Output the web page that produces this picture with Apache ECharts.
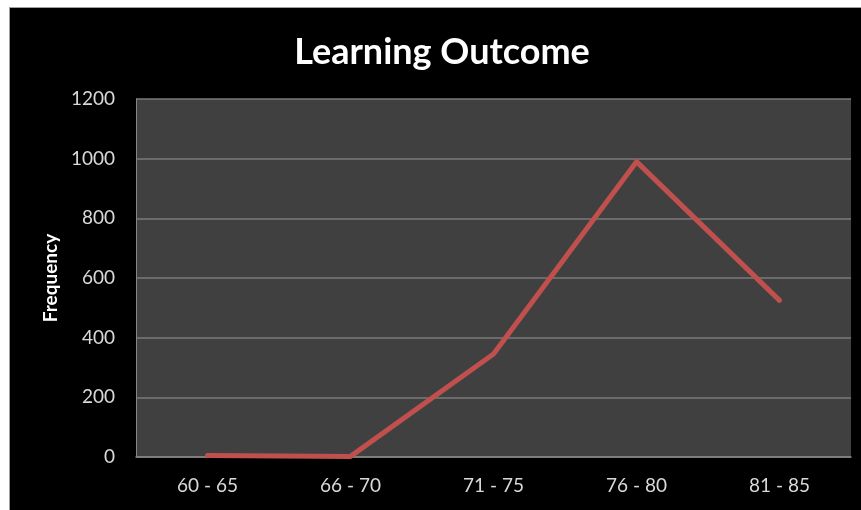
<!DOCTYPE html>
<html>
<head>
<meta charset="utf-8">
<script src="https://cdn.jsdelivr.net/npm/echarts@6/dist/echarts.min.js"></script>
<style>
html,body{margin:0;padding:0;background:#fff;}
#c{position:absolute;left:9px;top:7px;width:852px;height:503px;background:#000;border-top:1px solid #a0a0a0;border-left:1px solid #a0a0a0;box-sizing:border-box;}
</style>
</head>
<body>
<div id="c"></div>
<script>
var categories = ['60 - 65', '66 - 70', '71 - 75', '76 - 80', '81 - 85'];
var frequency = [5, 2, 345, 990, 525];
var yMin = 0, yMax = 1200, yStep = 200;
var titleText = 'Learning Outcome';
var yName = 'Frequency';

var chart = echarts.init(document.getElementById('c'));
chart.setOption({
  backgroundColor: '#000',
  animation: false,
  title: {
    text: titleText,
    left: 427, top: 21, textAlign: 'center',
    textStyle: {color: '#fff', fontFamily: 'Lato', fontWeight: 'bold', fontSize: 36}
  },
  grid: {left: 126, top: 91, right: 10, bottom: 53, show: true, backgroundColor: '#404040', borderWidth: 0},
  xAxis: {
    type: 'category', data: categories, boundaryGap: true,
    axisLine: {lineStyle: {color: '#868686', width: 1.5}},
    axisTick: {show: false},
    axisLabel: {color: '#d9d9d9', fontFamily: 'Lato', fontSize: 19, margin: 19}
  },
  yAxis: {
    type: 'value', min: yMin, max: yMax, interval: yStep,
    name: yName, nameLocation: 'middle', nameGap: 72, nameRotate: 90,
    nameTextStyle: {color: '#fff', fontFamily: 'Lato', fontWeight: 'bold', fontSize: 19},
    axisLine: {show: true, lineStyle: {color: '#868686', width: 1}},
    axisTick: {show: false},
    splitLine: {lineStyle: {color: '#7a7a7a', width: 1.5}},
    axisLabel: {color: '#d9d9d9', fontFamily: 'Lato', fontSize: 19, margin: 21, formatter: function (v) { return String(v); }}
  },
  series: [{
    type: 'line', data: frequency, showSymbol: false, symbol: 'none',
    lineStyle: {color: '#c0504d', width: 5, cap: 'round', join: 'round'}
  }]
});
</script>
</body>
</html>
